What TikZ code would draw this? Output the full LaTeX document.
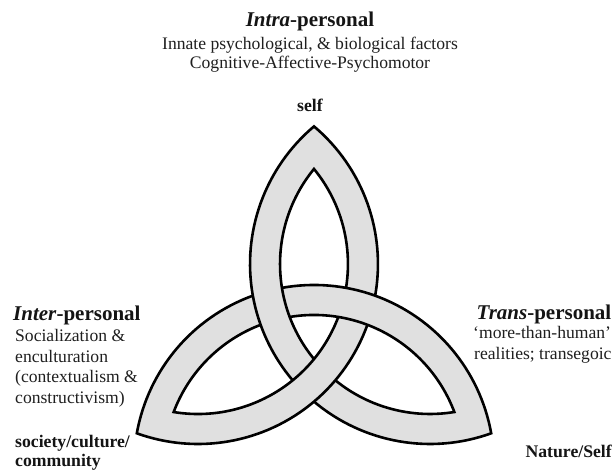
\documentclass[tikz,border=0pt]{standalone}
\usepackage{fontspec}
\setmainfont{Liberation Serif}
\begin{document}
\begin{tikzpicture}[x=1pt,y=1pt,
  bandfill/.style={fill=black!12},
  bandedge/.style={draw=black, line width=2.6pt, line join=miter, line cap=butt},
  body/.style={inner sep=0pt, text=black!88, font=\fontsize{17.6}{20.5}\selectfont},
  head/.style={inner sep=0pt, text=black!92, font=\fontsize{21}{24}\selectfont\bfseries},
  tag/.style={inner sep=0pt, text=black!92, font=\fontsize{17.7}{20.5}\selectfont\bfseries}]
\fill[white] (0,0) rectangle (614,470);
\useasboundingbox (0,0) rectangle (614,470);

% Triquetra: three circles (centre distance 134 from the middle,
% band between radii 150 and 180), each used along its major arc.
\begin{scope}[shift={(314,139)}]
  \coordinate (knot) at (0,0);
  % grey body: one lens-shaped ring per lobe
  \foreach \r in {0,120,240}{
    \fill[bandfill, even odd rule, rotate=\r]
      (0,204.6) arc[start angle=130.14, end angle=229.86, radius=180]
        arc[start angle=-49.86, end angle=49.86, radius=180] -- cycle
      (0,162.04) arc[start angle=140.68, end angle=219.32, radius=150]
        arc[start angle=-39.32, end angle=39.32, radius=150] -- cycle;
  }
  % outlines, broken where a band passes under another
  \foreach \r in {0,120,240}{
    \draw[bandedge, rotate=\r]
      (0,-70.6) arc[start angle=229.86, end angle=289.86, radius=180]
        arc[start angle=10.14, end angle=100.25, radius=180];
    \draw[bandedge, rotate=\r]
      (21.33,-49.3) arc[start angle=230.84, end angle=279.32, radius=150]
        arc[start angle=20.68, end angle=99.32, radius=150];
  }
\end{scope}

% top: intra-personal
\node[head, anchor=base] (intra) at (310,443) {\textit{Intra}-personal};
\node[body, anchor=base] (innate) at (310,420.7) {Innate psychological, \& biological factors};
\node[body, anchor=base] (cap) at (310,401) {Cognitive-Affective-Psychomotor};
\node[tag, anchor=base] (self) at (310,358.3) {self};

% left: inter-personal
\node[head, anchor=base west] (inter) at (13,149.3) {\textit{Inter}-personal};
\node[body, anchor=base west] (soc) at (15,128) {Socialization \&};
\node[body, anchor=base west] (enc) at (15,107.6) {enculturation};
\node[body, anchor=base west] (ctx) at (15,87.2) {(contextualism \&};
\node[body, anchor=base west] (cons) at (15,66.8) {constructivism)};
\node[tag, anchor=base west] (society) at (15,22.5) {society/culture/};
\node[tag, anchor=base west] (community) at (15,3.5) {community};

% right: trans-personal
\node[head, anchor=base west] (trans) at (476.5,150) {\textit{Trans}-personal};
\node[body, anchor=base west] (more) at (473,131) {‘more-than-human’};
\node[body, anchor=base west] (real) at (474,110.5) {realities; transegoic};
\node[tag, anchor=base east] (nature) at (612,12) {Nature/Self};
\end{tikzpicture}
\end{document}
